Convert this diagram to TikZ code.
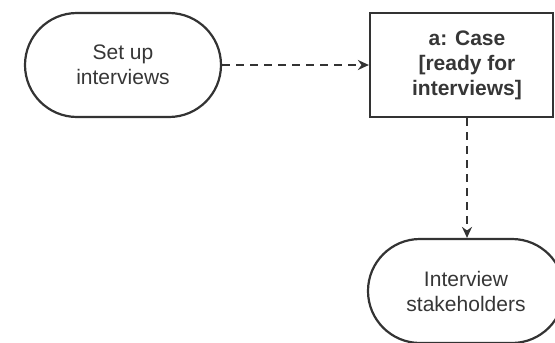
\documentclass[tikz,border=0pt]{standalone}
\usepackage{fontspec}
\setmainfont{Liberation Sans}
\usetikzlibrary{arrows.meta}
\definecolor{ink}{HTML}{333333}
\definecolor{txt}{HTML}{363636}
\begin{document}
\begin{tikzpicture}[x=1pt,y=1pt,
  action/.style={draw=ink, line width=2.2pt, rounded corners=52pt,
    minimum width=196pt, minimum height=104pt, align=center,
    font=\fontsize{21}{25}\selectfont, text=txt, inner sep=0pt},
  objbox/.style={draw=ink, line width=2.2pt, minimum width=183pt,
    minimum height=104pt, align=center, inner sep=0pt},
  boxtext/.style={font=\bfseries\fontsize{21}{25}\selectfont, text=txt,
    align=center, inner sep=0pt},
  flow/.style={draw=ink, line width=2.2pt, dash pattern=on 8pt off 6pt,
    -{Stealth[length=11pt,width=10pt]}}]
  \useasboundingbox (0,0) rectangle (555,-343);
  \node[action] (setup) at (123,-65) {Set up\\interviews};
  \node[objbox] (case) at (461.5,-65) {};
  \node[boxtext] (caselabel) at (467,-65) {a: Case\\{[}ready for\\interviews{]}};
  \node[action] (stake) at (466,-291) {Interview\\stakeholders};
  \draw[flow] (setup.east) -- (case.west);
  \draw[flow] ([xshift=5.5pt]case.south) -- ([xshift=1pt]stake.north);
\end{tikzpicture}
\end{document}
